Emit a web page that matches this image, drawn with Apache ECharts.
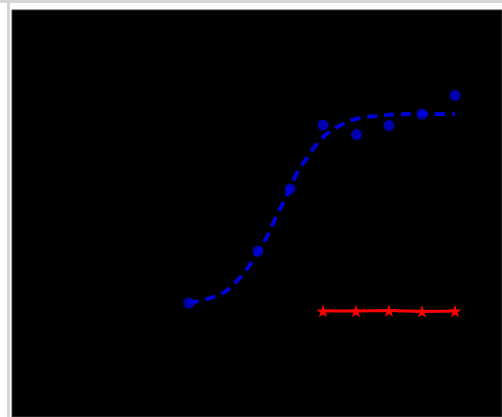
<!DOCTYPE html>
<html>
<head>
<meta charset="utf-8">
<script src="https://cdn.jsdelivr.net/npm/echarts@6/dist/echarts.min.js"></script>
<style>
  html, body { margin: 0; padding: 0; background: #ffffff; }
  #chart { width: 502px; height: 417px; }
</style>
</head>
<body>
<div id="chart"></div>
<script>
// Measured blue data points (x in log-step units, y response %)
var blueX = [0, 2.09, 3.06, 4.06, 5.08, 6.06, 7.06, 8.06];
var blueY = [4, 30, 61, 93, 88.2, 92.8, 98.5, 107.8];

// Red control series
var redX = [4.06, 5.06, 6.06, 7.06, 8.06];
var redY = [0, 0, 0.2, -0.2, 0];

// Fitted curve
var fitX = [0, 0.61, 1.09, 1.45, 1.82, 2.09, 2.36, 2.58, 2.82, 3.06, 3.27, 3.55, 3.85, 4.21, 4.67, 5.18, 5.7, 6.24, 6.79, 7.82, 8.06];
var fitY = [4, 6.35, 9.65, 15, 22.5, 29.5, 37, 45, 53, 61, 69, 76, 83, 89, 93.5, 96.5, 97.5, 98.25, 98.5, 98.5, 98.75];

function pairs(xs, ys) { return xs.map(function (x, i) { return [x, ys[i]]; }); }

var star = 'path://M0,-10 L2.35,-3.24 L9.51,-3.09 L3.8,1.24 L5.88,8.09 L0,4 L-5.88,8.09 L-3.8,1.24 L-9.51,-3.09 L-2.35,-3.24 Z';

var chart = echarts.init(document.getElementById('chart'), null, { renderer: 'canvas' });
chart.setOption({
  animation: false,
  backgroundColor: '#ffffff',
  graphic: [
    { type: 'rect', shape: { x: 0, y: 0, width: 502, height: 3 }, style: { fill: '#d6d6d6' }, z: -10 },
    { type: 'rect', shape: { x: 7, y: 3, width: 3, height: 414 }, style: { fill: '#d6d6d6' }, z: -10 }
  ],
  grid: {
    left: 12, top: 10, right: 0, bottom: 0,
    show: true, backgroundColor: '#000000', borderColor: '#3c3c3c', borderWidth: 1
  },
  xAxis: {
    type: 'value', min: -5.364, max: 9.485,
    show: false, splitLine: { show: false }
  },
  yAxis: {
    type: 'value', min: -53, max: 150.5,
    show: false, splitLine: { show: false }
  },
  series: [
    {
      type: 'line', data: pairs(fitX, fitY), smooth: true, showSymbol: false,
      lineStyle: { color: '#0000d8', width: 4, type: [10, 7], cap: 'butt' }, z: 2
    },
    {
      type: 'scatter', data: pairs(blueX, blueY), symbol: 'circle', symbolSize: 11,
      itemStyle: { color: '#0000d8' }, z: 3
    },
    {
      type: 'line', data: pairs(redX, redY), symbol: star, symbolSize: 13, symbolKeepAspect: true,
      showAllSymbol: true,
      lineStyle: { color: '#ff0000', width: 3 }, itemStyle: { color: '#ff0000' }, z: 4
    }
  ]
});
</script>
</body>
</html>
